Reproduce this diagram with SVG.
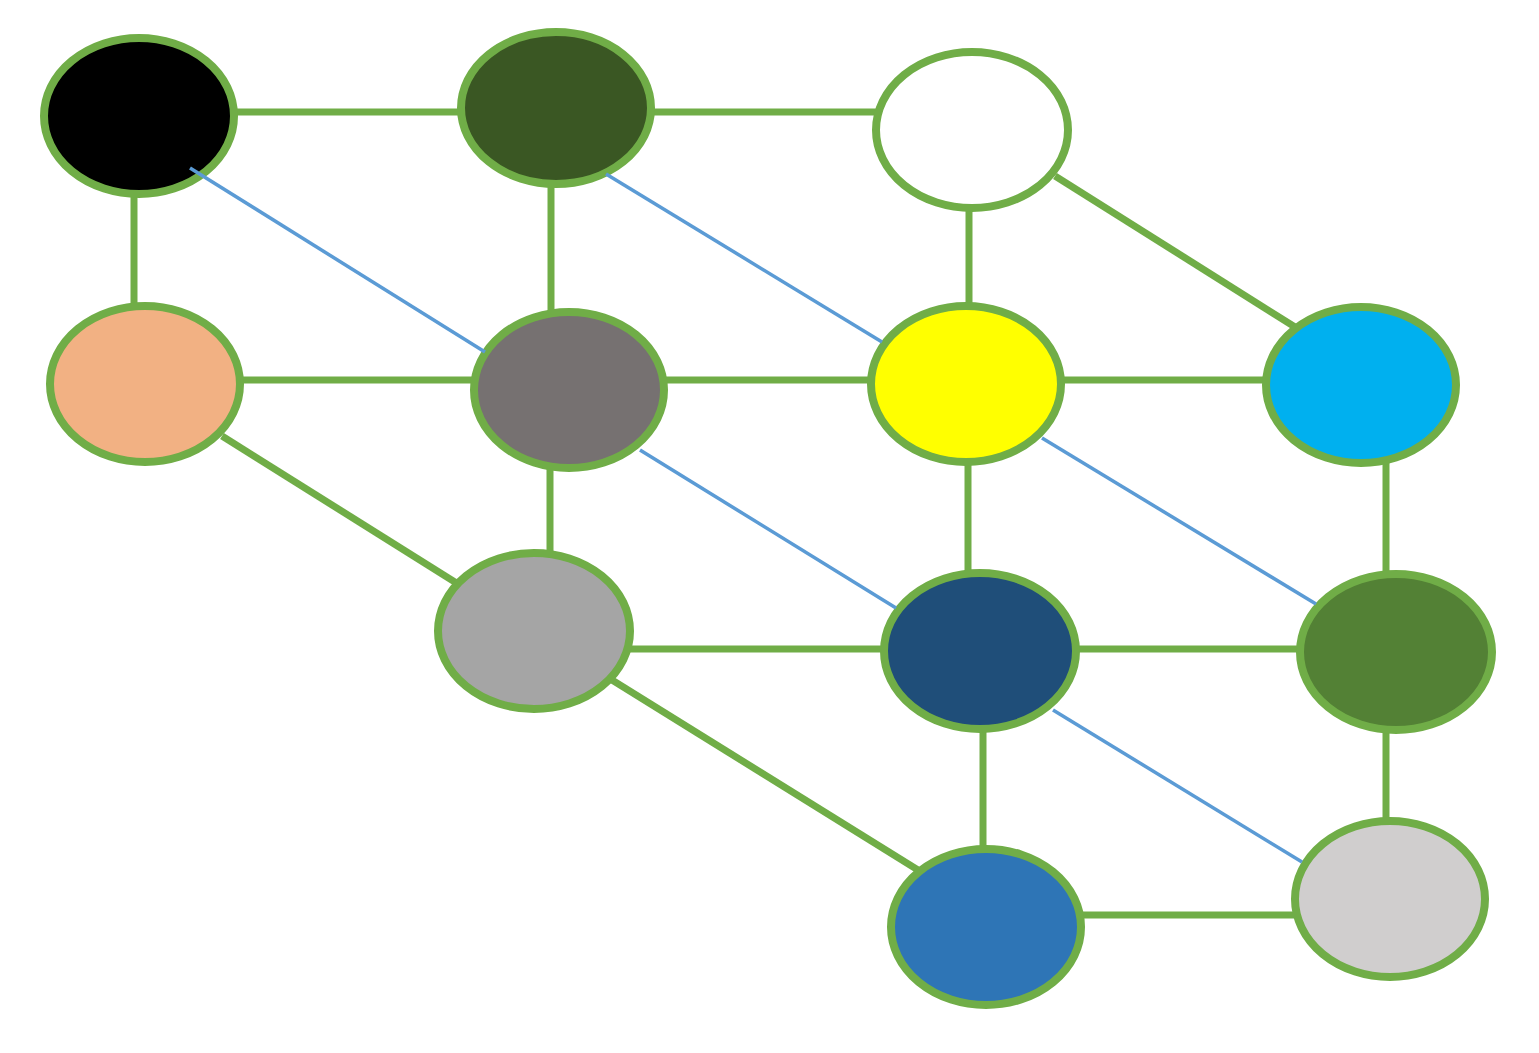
<svg xmlns="http://www.w3.org/2000/svg" width="1539" height="1053" viewBox="0 0 1539 1053">
<style>
.e{stroke:#70ad47;stroke-width:7;fill:none}
.b{stroke:#5b9bd5;stroke-width:3.5;fill:none}
.n{stroke:#70ad47;stroke-width:8}
</style>
<rect width="1539" height="1053" fill="#fff"/>
<g id="connectors">
<line class="e" x1="236" y1="112" x2="460" y2="112"/>
<line class="e" x1="652" y1="112" x2="876" y2="112"/>
<line class="e" x1="134" y1="196" x2="134" y2="306"/>
<line class="e" x1="551" y1="186" x2="551" y2="314"/>
<line class="e" x1="969" y1="210" x2="969" y2="306"/>
<line class="e" x1="1055" y1="176" x2="1295" y2="327"/>
<line class="e" x1="240" y1="380" x2="474" y2="380"/>
<line class="e" x1="664" y1="380" x2="871" y2="380"/>
<line class="e" x1="1061" y1="380" x2="1266" y2="380"/>
<line class="e" x1="222" y1="436" x2="458" y2="584"/>
<line class="e" x1="550" y1="468" x2="550" y2="555"/>
<line class="e" x1="968" y1="462" x2="968" y2="575"/>
<line class="e" x1="1386" y1="462" x2="1386" y2="576"/>
<line class="e" x1="628" y1="649" x2="886" y2="649"/>
<line class="e" x1="1074" y1="649" x2="1302" y2="649"/>
<line class="e" x1="612" y1="680" x2="918" y2="870"/>
<line class="e" x1="983" y1="728" x2="983" y2="851"/>
<line class="e" x1="1386" y1="729" x2="1386" y2="823"/>
<line class="e" x1="1080" y1="915" x2="1297" y2="915"/>
</g>
<g id="n1"><ellipse class="n" cx="139" cy="116" rx="95" ry="78" fill="#000"/></g>
<g id="n2"><ellipse class="n" cx="556" cy="108" rx="95" ry="76" fill="#3a5723"/></g>
<g id="n3"><ellipse class="n" cx="972" cy="130" rx="96" ry="78" fill="#fff"/></g>
<g id="n4"><ellipse class="n" cx="145" cy="384" rx="95" ry="78" fill="#f2b183"/></g>
<g id="n5"><ellipse class="n" cx="569" cy="390" rx="95" ry="78" fill="#767171"/></g>
<g id="n6"><ellipse class="n" cx="966" cy="384" rx="95" ry="78" fill="#ffff00"/></g>
<g id="n7"><ellipse class="n" cx="1361" cy="385" rx="95" ry="78" fill="#00b0ef"/></g>
<g id="n8"><ellipse class="n" cx="534" cy="631" rx="96" ry="78" fill="#a5a5a5"/></g>
<g id="n9"><ellipse class="n" cx="980" cy="651" rx="96" ry="78" fill="#1f4e79"/></g>
<g id="n10"><ellipse class="n" cx="1396" cy="652" rx="96" ry="78" fill="#538135"/></g>
<g id="n11"><ellipse class="n" cx="986" cy="927" rx="95" ry="78" fill="#2e75b6"/></g>
<g id="n12"><ellipse class="n" cx="1390" cy="899" rx="95" ry="78" fill="#d0cece"/></g>
<g id="connectors-blue">
<line class="b" x1="190" y1="168" x2="485" y2="352"/>
<line class="b" x1="606" y1="174" x2="882" y2="342"/>
<line class="b" x1="640" y1="450" x2="896" y2="608"/>
<line class="b" x1="1042" y1="438" x2="1316" y2="604"/>
<line class="b" x1="1053" y1="710" x2="1302" y2="862"/>
</g>
</svg>
